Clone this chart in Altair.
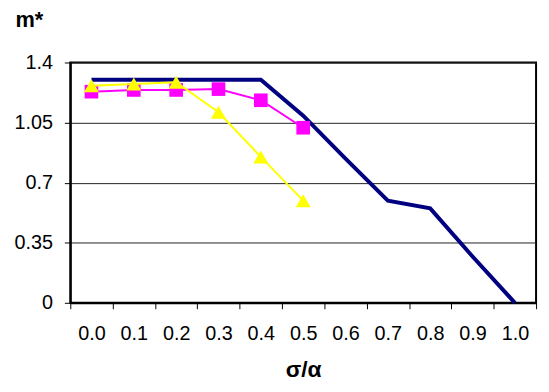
import altair as alt
import pandas as pd

categories = ["0.0", "0.1", "0.2", "0.3", "0.4", "0.5", "0.6", "0.7", "0.8", "0.9", "1.0"]
blue_values = [1.3, 1.3, 1.3, 1.3, 1.3, 1.09, 0.84, 0.595, 0.55, 0.27, 0.0]
pink_values = [1.23, 1.24, 1.24, 1.245, 1.18, 1.02]
yellow_values = [1.265, 1.275, 1.285, 1.11, 0.85, 0.595]
y_ticks = [0, 0.35, 0.7, 1.05, 1.4]

FONT = "Liberation Sans"

blue_df = pd.DataFrame({"x": categories[:len(blue_values)], "y": blue_values})
pink_df = pd.DataFrame({"x": categories[:len(pink_values)], "y": pink_values})
yellow_df = pd.DataFrame({"x": categories[:len(yellow_values)], "y": yellow_values})

x_enc = alt.X(
    "x:N",
    sort=categories,
    bandPosition=0.5,
    scale=alt.Scale(type="band", domain=categories, paddingInner=0, paddingOuter=0),
    axis=alt.Axis(
        title="σ/α",
        tickBand="extent",
        labelAngle=0,
        labelFont=FONT,
        labelFontSize=20,
        labelColor="black",
        labelPadding=15,
        tickSize=6,
        tickColor="black",
        tickWidth=1,
        domainColor="black",
        domainWidth=2,
        grid=False,
        titleFont=FONT,
        titleFontSize=23,
        titleFontWeight="bold",
        titleColor="black",
        titleBaseline="alphabetic",
        titleY=75,
    ),
)

y_enc = alt.Y(
    "y:Q",
    scale=alt.Scale(domain=[0, 1.4], nice=False, zero=True),
    axis=alt.Axis(
        title="m*",
        values=y_ticks,
        labelExpr="'' + datum.value",
        labelFont=FONT,
        labelFontSize=20,
        labelColor="black",
        labelPadding=12,
        tickSize=6,
        tickColor="black",
        tickWidth=1,
        domainColor="black",
        domainWidth=2,
        grid=True,
        gridColor="#222222",
        gridWidth=1,
        titleFont=FONT,
        titleFontSize=22,
        titleFontWeight="bold",
        titleColor="black",
        titleAngle=0,
        titleAlign="left",
        titleBaseline="alphabetic",
        titleX=-56,
        titleY=-36,
    ),
)

blue_line = alt.Chart(blue_df).mark_line(color="#000080", strokeWidth=4).encode(x=x_enc, y=y_enc)
pink_line = alt.Chart(pink_df).mark_line(color="#FF00FF", strokeWidth=2).encode(x=x_enc, y=y_enc)
pink_pts = alt.Chart(pink_df).mark_point(
    shape="square", filled=True, color="#FF00FF", size=190, opacity=1
).encode(x=x_enc, y=y_enc)
yellow_line = alt.Chart(yellow_df).mark_line(color="#FFFF00", strokeWidth=2).encode(x=x_enc, y=y_enc)
yellow_pts = alt.Chart(yellow_df).mark_point(
    shape="triangle-up", filled=True, color="#FFFF00", size=230, opacity=1
).encode(x=x_enc, y=y_enc)

chart = alt.layer(blue_line, pink_line, pink_pts, yellow_line, yellow_pts).properties(
    width=471,
    height=243,
    autosize=alt.AutoSizeParams(type="none"),
    padding={"left": 63, "top": 53, "right": 5, "bottom": 80},
    background="white",
).configure_view(stroke="black", strokeWidth=2)

chart.save("out.html", embed_options={"renderer": "svg", "actions": False})
